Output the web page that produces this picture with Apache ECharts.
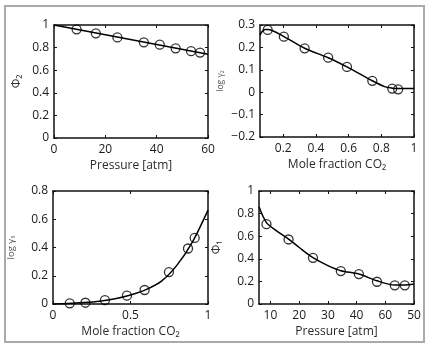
<!DOCTYPE html>
<html>
<head>
<meta charset="utf-8">
<script src="https://cdn.jsdelivr.net/npm/echarts@6/dist/echarts.min.js"></script>
<style>
  html, body { margin: 0; padding: 0; background: #fff; }
  #chart { width: 430px; height: 354px; }
</style>
</head>
<body>
<div id="chart"></div>
<script>
// panel 1: phi2 vs pressure
const p1MarkX = [8.8, 16.3, 24.7, 35, 41.2, 47.4, 53.4, 56.9];
const p1MarkY = [0.962, 0.926, 0.89, 0.847, 0.826, 0.794, 0.768, 0.756];
const p1LineX = [0, 60];
const p1LineY = [1, 0.741];

// panel 2: log gamma2 vs mole fraction
const p2MarkX = [0.105, 0.204, 0.331, 0.475, 0.59, 0.745, 0.867, 0.903];
const p2MarkY = [0.278, 0.248, 0.196, 0.154, 0.113, 0.051, 0.016, 0.013];
const p2LineX = [0.058, 0.07, 0.09, 0.105, 0.204, 0.331, 0.475, 0.59, 0.745, 0.82, 0.867, 0.903, 1];
const p2LineY = [0.255, 0.27, 0.28, 0.28, 0.248, 0.196, 0.154, 0.113, 0.051, 0.025, 0.018, 0.016, 0.017];

// panel 3: log gamma1 vs mole fraction
const p3MarkX = [0.108, 0.209, 0.335, 0.477, 0.591, 0.748, 0.871, 0.914];
const p3MarkY = [0.005, 0.009, 0.028, 0.059, 0.099, 0.226, 0.393, 0.468];
const p3LineX = [0, 0.1, 0.2, 0.3, 0.4, 0.5, 0.6, 0.7, 0.8, 0.9, 1];
const p3LineY = [0, 0.003, 0.01, 0.02, 0.037, 0.064, 0.102, 0.162, 0.275, 0.44, 0.665];

// panel 4: phi1 vs pressure
const p4MarkX = [8.6, 16.3, 24.8, 34.5, 40.8, 47.1, 53.3, 56.8];
const p4MarkY = [0.706, 0.571, 0.409, 0.291, 0.265, 0.197, 0.165, 0.165];
const p4LineX = [6, 8.6, 12, 16.3, 20, 24.8, 30, 34.5, 40.8, 47.1, 53.3, 56.8, 60];
const p4LineY = [0.86, 0.72, 0.65, 0.575, 0.5, 0.41, 0.34, 0.295, 0.265, 0.205, 0.168, 0.168, 0.176];
const p4TickVals = [10, 20, 30, 40, 50, 60];
const p4TickText = ['10', '20', '30', '40', '60', '50'];

const FONT = '"Open Sans", "DejaVu Sans", sans-serif';

function pairs(xs, ys) {
    return xs.map(function (x, i) { return [x, ys[i]]; });
}

function minus(v) {
    return String(Math.round(v * 1000) / 1000).replace('-', '\u2212');
}

let xAxes = [];
let yAxes = [];
let series = [];

function panel(g, xo, yo, mark, line) {
    let base = {
        type: 'value',
        gridIndex: g,
        splitLine: {show: false},
        axisLine: {onZero: false, lineStyle: {color: '#111', width: 1.5}},
        axisTick: {inside: true, length: 3, lineStyle: {color: '#111'}},
        nameTextStyle: {fontFamily: FONT, color: '#333'}
    };
    let xb = Object.assign({}, base, xo, {
        position: 'bottom',
        axisLabel: Object.assign({color: '#1a1a1a', fontSize: 12, fontFamily: FONT, margin: 6}, xo.axisLabel || {}),
        nameLocation: 'middle',
        nameGap: 22,
        nameTextStyle: {fontFamily: FONT, color: '#2a2a2a', fontSize: 12}
    });
    let xt = Object.assign({}, base, xo, {position: 'top', name: '', axisLabel: {show: false}});
    let yl = Object.assign({}, base, yo, {
        position: 'left',
        axisLabel: {color: '#1a1a1a', fontSize: 12, fontFamily: FONT, margin: 5, formatter: minus},
        nameLocation: 'middle',
        nameTextStyle: Object.assign({fontFamily: FONT, color: '#555', fontSize: 11}, yo.nameTextStyle || {})
    });
    let yr = Object.assign({}, base, yo, {position: 'right', name: '', axisLabel: {show: false}});
    if (xo.axisTick) {
        xb.axisTick = Object.assign({}, base.axisTick, xo.axisTick);
        xt.axisTick = Object.assign({}, base.axisTick, xo.axisTick);
    }
    let xi = xAxes.length, yi = yAxes.length;
    xAxes.push(xb, xt);
    yAxes.push(yl, yr);
    series.push({
        type: 'line',
        xAxisIndex: xi,
        yAxisIndex: yi,
        data: line,
        smooth: 0.3,
        showSymbol: false,
        lineStyle: {color: '#000', width: 1.5}
    });
    series.push({
        type: 'scatter',
        xAxisIndex: xi,
        yAxisIndex: yi,
        data: mark,
        symbol: 'circle',
        symbolSize: 9,
        itemStyle: {color: 'transparent', borderColor: '#000', borderWidth: 1.3}
    });
}

panel(0,
    {min: 0, max: 60, interval: 20, name: 'Pressure [atm]'},
    {min: 0, max: 1, interval: 0.2, name: '\u03a6\u2082', nameGap: 31, nameTextStyle: {fontSize: 12, color: '#333'}},
    pairs(p1MarkX, p1MarkY), pairs(p1LineX, p1LineY));

panel(1,
    {min: 0.058, max: 1, name: 'Mole fraction CO\u2082',
        axisLabel: {customValues: [0.2, 0.4, 0.6, 0.8, 1]},
        axisTick: {customValues: [0.2, 0.4, 0.6, 0.8, 1]}},
    {min: -0.2, max: 0.3, interval: 0.1, name: 'log \u03b3\u2082', nameGap: 35, nameTextStyle: {fontSize: 8.5}},
    pairs(p2MarkX, p2MarkY), pairs(p2LineX, p2LineY));

panel(2,
    {min: 0, max: 1, interval: 0.5, name: 'Mole fraction CO\u2082'},
    {min: 0, max: 0.8, interval: 0.2, name: 'log \u03b3\u2081', nameGap: 37, nameTextStyle: {fontSize: 9.5}},
    pairs(p3MarkX, p3MarkY), pairs(p3LineX, p3LineY));

panel(3,
    {min: 6, max: 60, name: 'Pressure [atm]',
        axisLabel: {
            customValues: p4TickVals,
            formatter: function (v) {
                let i = p4TickVals.indexOf(Math.round(v));
                return i >= 0 ? p4TickText[i] : '';
            }
        },
        axisTick: {customValues: p4TickVals}},
    {min: 0, max: 1, interval: 0.2, name: '\u03a6\u2081', nameGap: 36, nameTextStyle: {fontSize: 12, color: '#333'}},
    pairs(p4MarkX, p4MarkY), pairs(p4LineX, p4LineY));

let chart = echarts.init(document.getElementById('chart'));
chart.setOption({
    animation: false,
    backgroundColor: '#fff',
    grid: [
        {left: 54, top: 25, width: 154, height: 113},
        {left: 260, top: 25, width: 154, height: 112},
        {left: 53, top: 191, width: 155, height: 113},
        {left: 259, top: 191, width: 155, height: 113}
    ],
    graphic: [{
        type: 'rect',
        shape: {x: 5, y: 6, width: 419, height: 336},
        style: {fill: 'none', stroke: '#aaa', lineWidth: 2}
    }],
    xAxis: xAxes,
    yAxis: yAxes,
    series: series
});
</script>
</body>
</html>
